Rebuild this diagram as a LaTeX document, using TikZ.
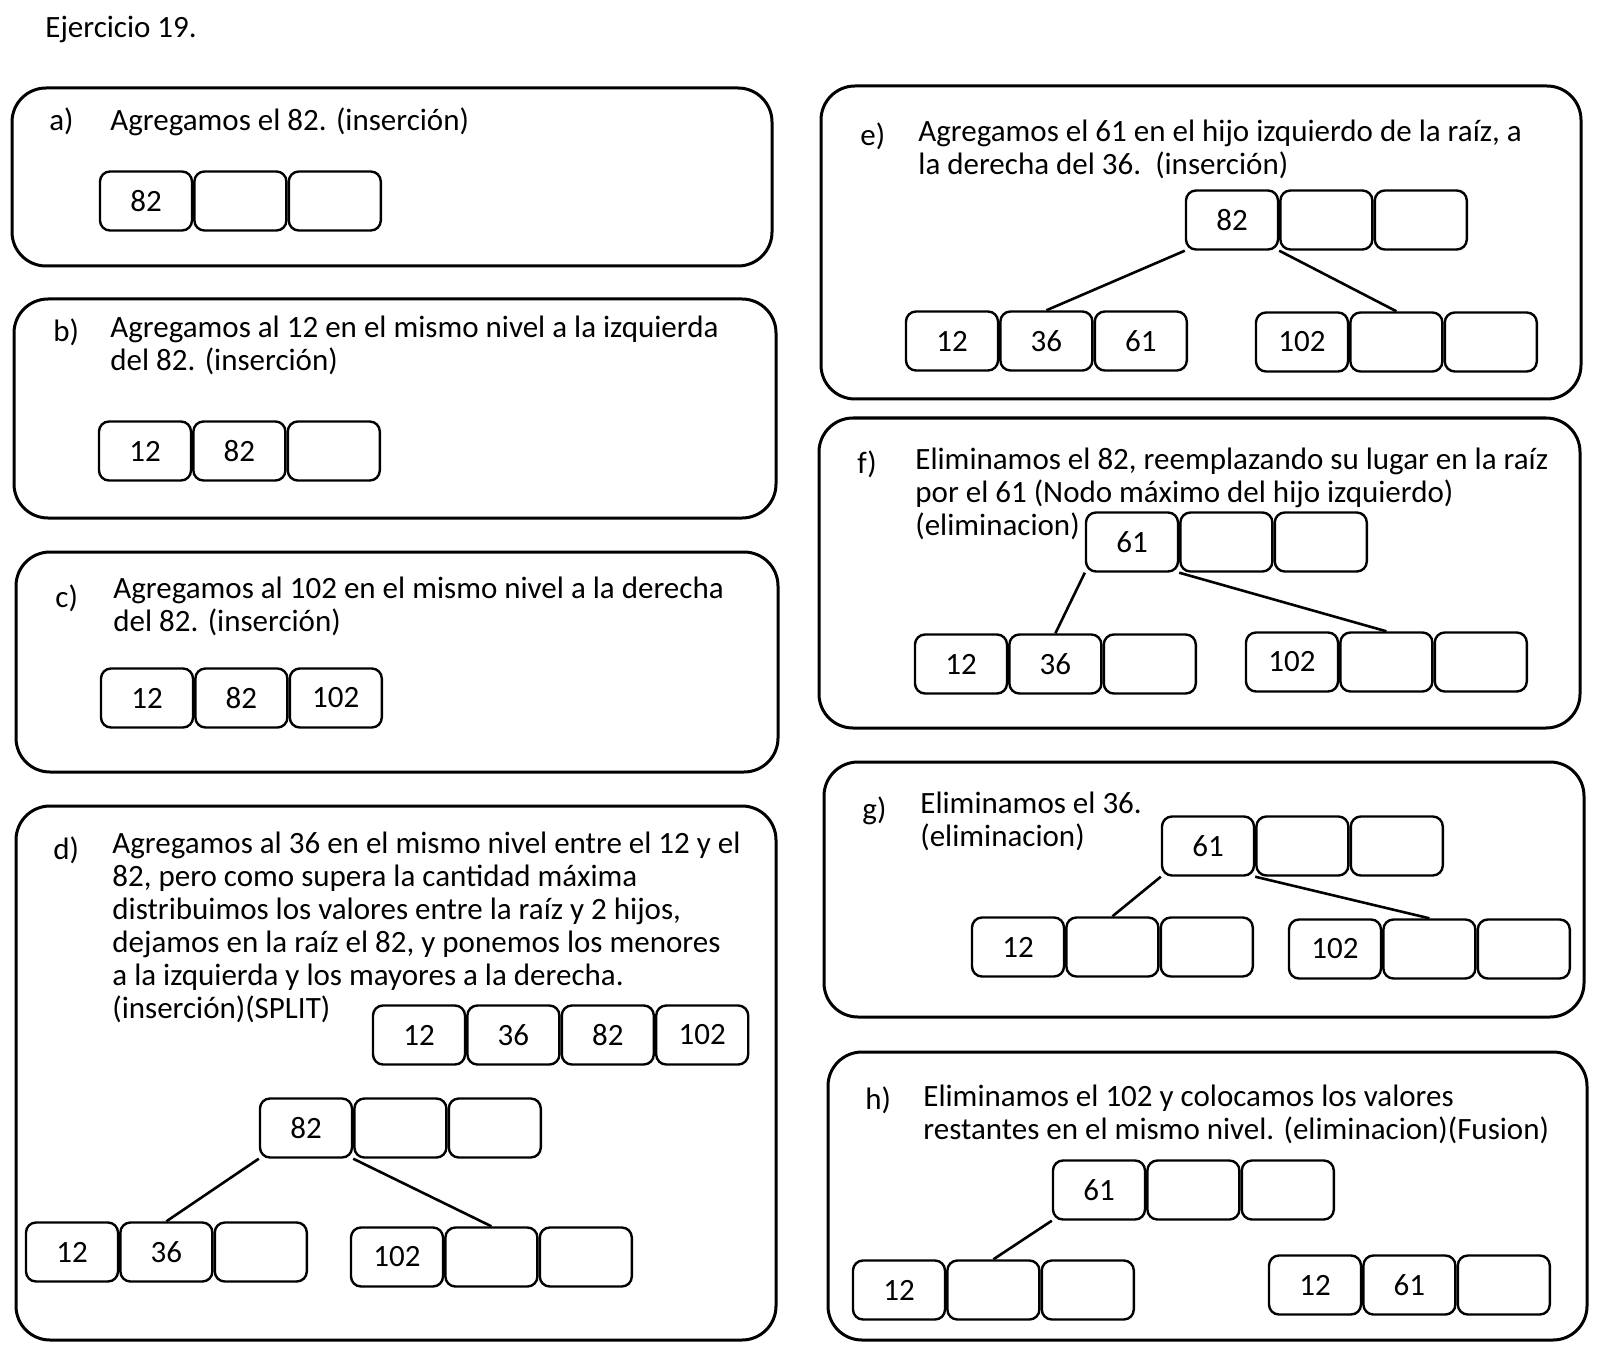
\documentclass[tikz,border=0pt]{standalone}
\usepackage{fontspec}
\setmainfont{Carlito}
\usetikzlibrary{positioning}

\tikzset{
  panel/.style={line width=1.5pt, rounded corners=17pt},
  celda/.style={draw, line width=1.2pt, rounded corners=5pt, minimum width=46pt, minimum height=29.5pt, inner sep=0pt},
  rama/.style={line width=1.3pt},
  texto/.style={anchor=north west, align=left, inner sep=0pt},
  letra/.style={anchor=west, inner sep=0pt},
}

\begin{document}
\begin{tikzpicture}[x=0.5pt,y=-0.5pt,font=\fontsize{15.5}{16.5}\selectfont]
\useasboundingbox (0,0) rectangle (1600,1353);

\node[letra] (titulo) at (45,29) {Ejercicio 19.};

% a)
\draw[panel] (12,88) rectangle (772,266);
\node[letra] (la) at (49,121) {a)};
\node[texto] (ta) at (110,107) {Agregamos el 82. (inserción)};
\node[celda] (a1) at (146,201) {82};
\node[celda, right=0pt of a1] (a2) {};
\node[celda, right=0pt of a2] (a3) {};

% b)
\draw[panel] (14,299) rectangle (776,518);
\node[letra] (lb) at (53,332) {b)};
\node[texto] (tb) at (110,316) {Agregamos al 12 en el mismo nivel a la izquierda\\del 82. (inserción)};
\node[celda] (b1) at (145,451) {12};
\node[celda, right=0pt of b1] (b2) {82};
\node[celda, right=0pt of b2] (b3) {};

% c)
\draw[panel] (16,552) rectangle (778,772);
\node[letra] (lc) at (55,598) {c)};
\node[texto] (tc) at (113,577) {Agregamos al 102 en el mismo nivel a la derecha\\del 82. (inserción)};
\node[celda] (c1) at (147,698) {12};
\node[celda, right=0pt of c1] (c2) {82};
\node[celda, right=0pt of c2] (c3) {102};

% d)
\draw[panel] (16,806) rectangle (776,1340);
\node[letra] (ld) at (53,850) {d)};
\node[texto] (td) at (112,832) {Agregamos al 36 en el mismo nivel entre el 12 y el\\82, pero como supera la cantidad máxima\\distribuimos los valores entre la raíz y 2 hijos,\\dejamos en la raíz el 82, y ponemos los menores\\a la izquierda y los mayores a la derecha.\\(inserción)(SPLIT)};
\node[celda] (d1) at (419,1035) {12};
\node[celda, right=0pt of d1] (d2) {36};
\node[celda, right=0pt of d2] (d3) {82};
\node[celda, right=0pt of d3] (d4) {102};
\node[celda] (dr1) at (306,1128) {82};
\node[celda, right=0pt of dr1] (dr2) {};
\node[celda, right=0pt of dr2] (dr3) {};
\node[celda] (dl1) at (72,1252) {12};
\node[celda, right=0pt of dl1] (dl2) {36};
\node[celda, right=0pt of dl2] (dl3) {};
\node[celda] (dd1) at (397,1257) {102};
\node[celda, right=0pt of dd1] (dd2) {};
\node[celda, right=0pt of dd2] (dd3) {};
\draw[rama] (dr1.south west) -- (dl2.north);
\draw[rama] (dr1.south east) -- (dd2.north);

% e)
\draw[panel] (821,86) rectangle (1581,399);
\node[letra] (le) at (860,136) {e)};
\node[texto] (te) at (918,120) {Agregamos el 61 en el hijo izquierdo de la raíz, a\\la derecha del 36.\ \ (inserción)};
\node[celda] (er1) at (1232,220) {82};
\node[celda, right=0pt of er1] (er2) {};
\node[celda, right=0pt of er2] (er3) {};
\node[celda] (el1) at (952,341) {12};
\node[celda, right=0pt of el1] (el2) {36};
\node[celda, right=0pt of el2] (el3) {61};
\node[celda] (ed1) at (1302,342) {102};
\node[celda, right=0pt of ed1] (ed2) {};
\node[celda, right=0pt of ed2] (ed3) {};
\draw[rama] (er1.south west) -- (el2.north);
\draw[rama] (er1.south east) -- (ed2.north);

% f)
\draw[panel] (819,418) rectangle (1580,728);
\node[letra] (lf) at (857,464) {f)};
\node[texto] (tf) at (915,448) {Eliminamos el 82, reemplazando su lugar en la raíz\\por el 61 (Nodo máximo del hijo izquierdo)\\(eliminacion)};
\node[celda] (fr1) at (1132,542) {61};
\node[celda, right=0pt of fr1] (fr2) {};
\node[celda, right=0pt of fr2] (fr3) {};
\node[celda] (fl1) at (961,664) {12};
\node[celda, right=0pt of fl1] (fl2) {36};
\node[celda, right=0pt of fl2] (fl3) {};
\node[celda] (fd1) at (1292,662) {102};
\node[celda, right=0pt of fd1] (fd2) {};
\node[celda, right=0pt of fd2] (fd3) {};
\draw[rama] (fr1.south west) -- (fl2.north);
\draw[rama] (fr1.south east) -- (fd2.north);

% g)
\draw[panel] (824,762) rectangle (1584,1017);
\node[letra] (lg) at (862,811) {g)};
\node[texto] (tg) at (920,792) {Eliminamos el 36.\\(eliminacion)};
\node[celda] (gr1) at (1208,846) {61};
\node[celda, right=0pt of gr1] (gr2) {};
\node[celda, right=0pt of gr2] (gr3) {};
\node[celda] (gl1) at (1018,947) {12};
\node[celda, right=0pt of gl1] (gl2) {};
\node[celda, right=0pt of gl2] (gl3) {};
\node[celda] (gd1) at (1335,949) {102};
\node[celda, right=0pt of gd1] (gd2) {};
\node[celda, right=0pt of gd2] (gd3) {};
\draw[rama] (gr1.south west) -- (gl2.north);
\draw[rama] (gr1.south east) -- (gd2.north);

% h)
\draw[panel] (828,1052) rectangle (1587,1340);
\node[letra] (lh) at (865,1100) {h)};
\node[texto] (th) at (923,1085) {Eliminamos el 102 y colocamos los valores\\restantes en el mismo nivel. (eliminacion)(Fusion)};
\node[celda] (hr1) at (1099,1190) {61};
\node[celda, right=0pt of hr1] (hr2) {};
\node[celda, right=0pt of hr2] (hr3) {};
\node[celda] (hl1) at (899,1290) {12};
\node[celda, right=0pt of hl1] (hl2) {};
\node[celda, right=0pt of hl2] (hl3) {};
\node[celda] (hd1) at (1315,1285) {12};
\node[celda, right=0pt of hd1] (hd2) {61};
\node[celda, right=0pt of hd2] (hd3) {};
\draw[rama] (hr1.south west) -- (hl2.north);
\end{tikzpicture}
\end{document}
